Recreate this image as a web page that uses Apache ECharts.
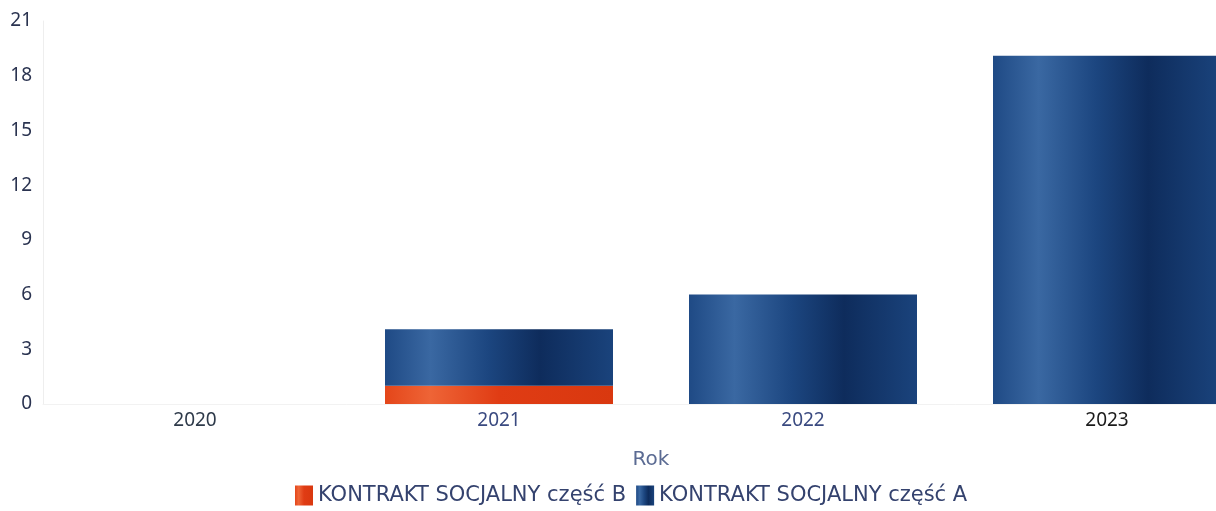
<!DOCTYPE html>
<html>
<head>
<meta charset="utf-8">
<script src="https://cdn.jsdelivr.net/npm/echarts@6/dist/echarts.min.js"></script>
<style>
  html, body { margin: 0; padding: 0; background: #fff; overflow: hidden; }
  /* wykres szerszy niż okno: ostatni słupek jest ucięty przy prawej krawędzi */
  #chart { width: 1262px; height: 511px; }
</style>
</head>
<body>
<div id="chart"></div>
<script>
// dane
const years = ['2020', '2021', '2022', '2023'];
const partB = [0, 1.0, 0, 0];
const partA = [0, 3.1, 6.0, 19.1];
const yTicks = { min: 0, max: 21, interval: 3 };
const yearLabelColors = ['#2e3a4a', '#3a4a80', '#3a4a80', '#1a1a1a'];

const blueFill = new echarts.graphic.LinearGradient(0, 0, 1, 0, [
  { offset: 0, color: '#1f4a85' },
  { offset: 0.2, color: '#3a68a2' },
  { offset: 0.45, color: '#1c4680' },
  { offset: 0.68, color: '#0e2c5c' },
  { offset: 1, color: '#1a437c' }
]);
const redFill = new echarts.graphic.LinearGradient(0, 0, 1, 0, [
  { offset: 0, color: '#e4461a' },
  { offset: 0.2, color: '#ee6436' },
  { offset: 0.5, color: '#e03c14' },
  { offset: 1, color: '#d9380f' }
]);

const myChart = echarts.init(document.getElementById('chart'));
myChart.setOption({
  animation: false,
  textStyle: { fontFamily: 'Noto Sans' },
  grid: { left: 43, right: 3, top: 21, bottom: 107 },
  legend: {
    bottom: 0,
    left: 290,
    itemGap: 10,
    itemWidth: 18,
    itemHeight: 20,
    icon: 'rect',
    textStyle: { color: '#34426e', fontSize: 21, fontFamily: 'DejaVu Sans' },
    data: ['KONTRAKT SOCJALNY część B', 'KONTRAKT SOCJALNY część A']
  },
  xAxis: {
    type: 'category',
    data: years,
    name: 'Rok',
    nameLocation: 'middle',
    nameGap: 46,
    nameTextStyle: { color: '#5b6b93', fontSize: 20, fontFamily: 'DejaVu Sans' },
    axisLine: { lineStyle: { color: '#f2f2f2' } },
    axisTick: { show: false },
    axisLabel: {
      fontSize: 19,
      margin: 7,
      color: (value, index) => yearLabelColors[index]
    }
  },
  yAxis: {
    type: 'value',
    min: yTicks.min,
    max: yTicks.max,
    interval: yTicks.interval,
    axisLine: { show: true, lineStyle: { color: '#eeeeee' } },
    axisTick: { show: false },
    splitLine: { show: false },
    axisLabel: { color: '#2a3350', fontSize: 19, margin: 11 }
  },
  series: [
    {
      name: 'KONTRAKT SOCJALNY część B',
      type: 'bar',
      stack: 'total',
      barWidth: '75%',
      data: partB,
      itemStyle: { color: redFill }
    },
    {
      name: 'KONTRAKT SOCJALNY część A',
      type: 'bar',
      stack: 'total',
      barWidth: '75%',
      data: partA,
      itemStyle: { color: blueFill }
    }
  ]
});
</script>
</body>
</html>
